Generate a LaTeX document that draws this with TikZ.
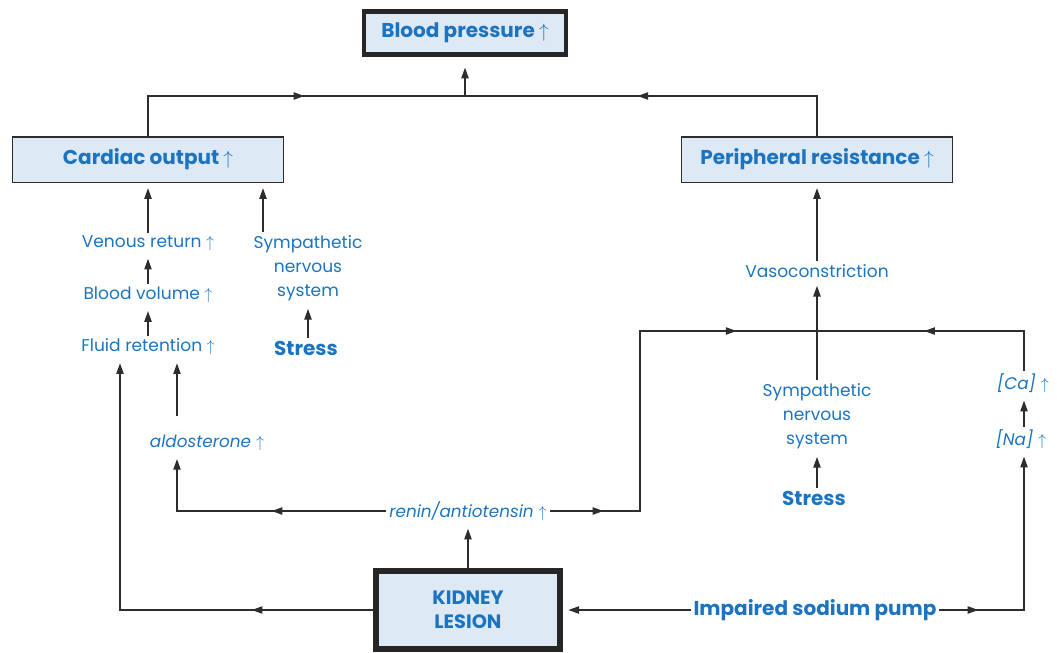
\documentclass[tikz,border=0pt]{standalone}
\usepackage{fontspec}
\setmainfont{Poppins}
\usetikzlibrary{arrows.meta, positioning, decorations.markings}
\definecolor{txtBlue}{RGB}{28,116,192}
\definecolor{boxFill}{RGB}{222,233,246}
\definecolor{lineGray}{RGB}{45,45,45}

\begin{document}
\begin{tikzpicture}[
    x=0.75pt, y=-0.75pt,
    every node/.style={text=txtBlue, inner sep=2pt},
    lbl/.style    ={font=\fontsize{12.8}{18}\selectfont, align=center},
    key/.style    ={font=\fontsize{15}{18}\selectfont\bfseries, align=center},
    hormone/.style={font=\fontsize{12.6}{14}\selectfont\itshape},
    factor/.style ={rectangle, draw=lineGray, line width=1pt, fill=boxFill, minimum width=203pt, minimum height=34pt, font=\fontsize{15}{18}\selectfont\bfseries},
    outcome/.style={rectangle, draw=black!85, line width=3.4pt, fill=boxFill, minimum width=151.5pt, minimum height=32.6pt, font=\fontsize{15}{18}\selectfont\bfseries},
    lesion/.style ={rectangle, draw=black!85, line width=4.5pt, fill=boxFill, minimum width=138pt, minimum height=58.5pt, align=center, font=\fontsize{14.5}{18}\selectfont\bfseries},
    link/.style   ={draw=lineGray, line width=0.9pt},
    arrow/.style  ={link, -{Triangle[length=8pt,width=5.5pt]}, shorten >=4pt},
    midarrow/.style={postaction={decorate, decoration={markings, mark=at position #1 with {\arrow{Triangle[length=8pt,width=5.5pt]}}}}}
]
\useasboundingbox (0,0) rectangle (1057,653);
% boxes
\node[outcome] (bp) at (465,33) {Blood pressure $\uparrow$};
\node[factor] (cardiac) at (148,159.5) {Cardiac output $\uparrow$};
\node[factor] (periph) at (817,159.5) {Peripheral resistance $\uparrow$};
\node[lesion] (kidney) at (468,610) {KIDNEY\\LESION};
% left column
\node[lbl] (venous) at (148,243) {Venous return $\uparrow$};
\node[lbl] (bvol) at (148,295) {Blood volume $\uparrow$};
\node[lbl] (fluid) at (148,347) {Fluid retention $\uparrow$};
\node[lbl] (snsL) at (308,268) {Sympathetic\\nervous\\system};
\node[key] (stressL) at (306,348) {Stress};
\node[hormone] (aldo) at (207,443) {aldosterone $\uparrow$};
\node[hormone] (renin) at (468,511) {renin/antiotensin $\uparrow$};
% right column
\node[lbl] (vaso) at (817,271) {Vasoconstriction};
\node[lbl] (snsR) at (817,416) {Sympathetic\\nervous\\system};
\node[key] (stressR) at (814,498) {Stress};
\node[hormone] (ca) at (1023,383) {[Ca] $\uparrow$};
\node[hormone] (na) at (1021,439) {[Na] $\uparrow$};
\node[key] (pump) at (815,610) {Impaired sodium pump};
\coordinate (bpjoin) at (465,96);
\coordinate (vjoin) at (817,331);
\coordinate (rturn) at (640,331);
\coordinate (catop) at (1024,331);
% top
\draw[link, midarrow=0.55] (cardiac.north) |- (bpjoin);
\draw[link, midarrow=0.56] (periph.north) |- (bpjoin);
\draw[arrow, shorten >=8pt] (bpjoin) -- (bp.south);
% cardiac output side
\draw[arrow] (venous.north) -- (venous.north |- cardiac.south);
\draw[arrow] (bvol.north) -- (venous.south);
\draw[arrow] (fluid.north) -- (bvol.south);
\draw[arrow] ([xshift=-33.75pt]snsL.north) -- ([xshift=-33.75pt]snsL.north |- cardiac.south);
\draw[arrow] (stressL.north -| snsL.south) -- (snsL.south);
\draw[arrow, shorten <=12pt] ([xshift=-22.5pt]aldo.north) -- ([xshift=-22.5pt]aldo.north |- fluid.south);
\draw[arrow, midarrow=0.43] (renin.west) -| ([xshift=-22.5pt]aldo.south);
\draw[arrow, midarrow=0.24] (kidney.west) -| ([xshift=-21pt]fluid.south);
\draw[arrow] (kidney.north) -- (renin.south);
% peripheral resistance side
\draw[link, midarrow=0.12, midarrow=0.82] (renin.east) -| (rturn) -- (vjoin);
\draw[link] (snsR.north) -- (vjoin);
\draw[arrow] (vjoin) -- (vaso.south);
\draw[arrow] (vaso.north) -- (periph.south);
\draw[arrow] (stressR.north -| snsR.south) -- (snsR.south);
\draw[link, midarrow=0.565] (ca.north -| catop) -- (catop) -- (vjoin);
\draw[arrow] (na.north -| catop) -- (ca.south -| catop);
\draw[arrow, midarrow=0.16] (pump.east) -| (na.south -| catop);
\draw[arrow] (pump.west) -- (kidney.east);
\end{tikzpicture}
\end{document}
